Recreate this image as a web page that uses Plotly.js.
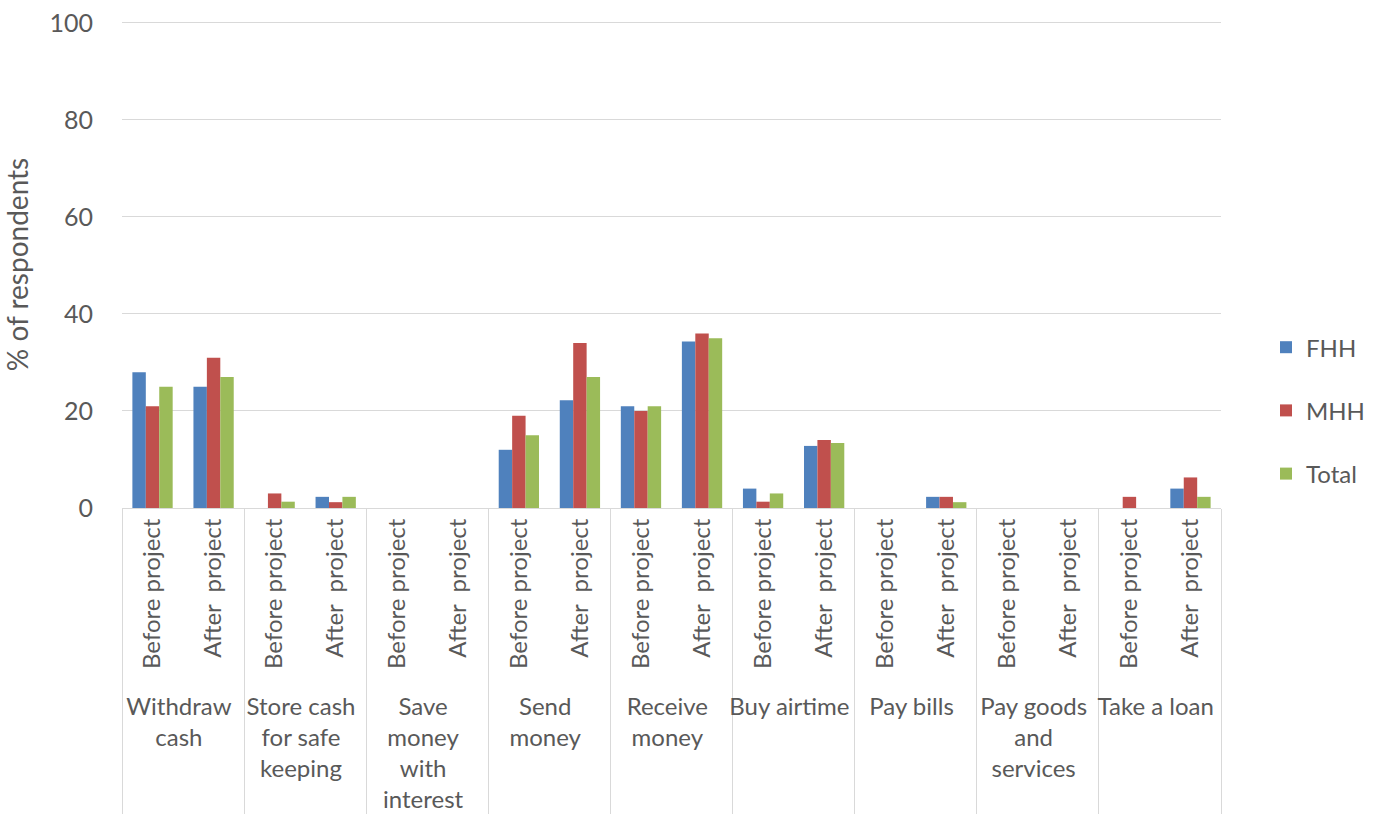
<!DOCTYPE html>
<html><head><meta charset="utf-8">
<script src="https://cdn.plot.ly/plotly-3.0.1.min.js"></script>
<style>body{margin:0;background:#fff}#chart{width:1381px;height:817px}</style>
</head><body><div id="chart"></div>
<script>
const categories = ["Withdraw<br>cash","Store cash<br>for safe<br>keeping","Save<br>money<br>with<br>interest","Send<br>money","Receive<br>money","Buy airtime","Pay bills","Pay goods<br>and<br>services","Take a loan"];
const periods = ["Before project","After  project"];
const fhh   = [28,25, 0,2.3, 0,0, 12,22.2, 21,34.3, 4,12.8, 0,2.3, 0,0, 0,4];
const mhh   = [21,31, 3,1.2, 0,0, 19,34,   20,36,   1.3,14, 0,2.3, 0,0, 2.3,6.3];
const total = [25,27, 1.3,2.3, 0,0, 15,27, 21,35,   3,13.4, 0,1.2, 0,0, 0,2.3];

const outer = [], inner = [];
categories.forEach(c => periods.forEach(p => { outer.push(c); inner.push(p); }));
const x = [outer, inner];

const font = {family: "Lato, 'Open Sans', sans-serif", color: "#595959"};
const traces = [
  {name: "FHH", y: fhh, color: "#4F81BD"},
  {name: "MHH", y: mhh, color: "#C0504D"},
  {name: "Total", y: total, color: "#9BBB59"}
].map(s => ({type: "bar", x: x, y: s.y, name: s.name, legendgroup: s.name, marker: {color: s.color}}));

const layout = {
  width: 1381, height: 817,
  margin: {l: 122, r: 159, t: 21, b: 309},
  paper_bgcolor: "#fff", plot_bgcolor: "#fff",
  barmode: "group", bargap: 0.34, bargroupgap: 0,
  font: Object.assign({size: 23}, font),
  xaxis: {
    type: "multicategory", tickangle: -90,
    tickfont: Object.assign({size: 24}, font),
    showdividers: true, dividercolor: "#d9d9d9", dividerwidth: 1,
    showline: true, linecolor: "#d9d9d9", linewidth: 1,
    ticks: "", showgrid: false
  },
  yaxis: {
    range: [0, 100.4], dtick: 20, tick0: 0,
    showgrid: true, gridcolor: "#d9d9d9", gridwidth: 1,
    zeroline: false, showline: false, ticks: "",
    ticklabelstandoff: 28,
    tickfont: Object.assign({size: 25}, font),
    title: {text: "% of respondents", font: Object.assign({size: 28}, font), standoff: 16}
  },
  legend: {x: 1.04, y: 0.2, xanchor: "left", yanchor: "middle",
    font: Object.assign({size: 24}, font), tracegroupgap: 29,
    traceorder: "grouped"},
  showlegend: true
};
Plotly.newPlot("chart", traces, layout, {displayModeBar: false, staticPlot: true});
</script></body></html>
